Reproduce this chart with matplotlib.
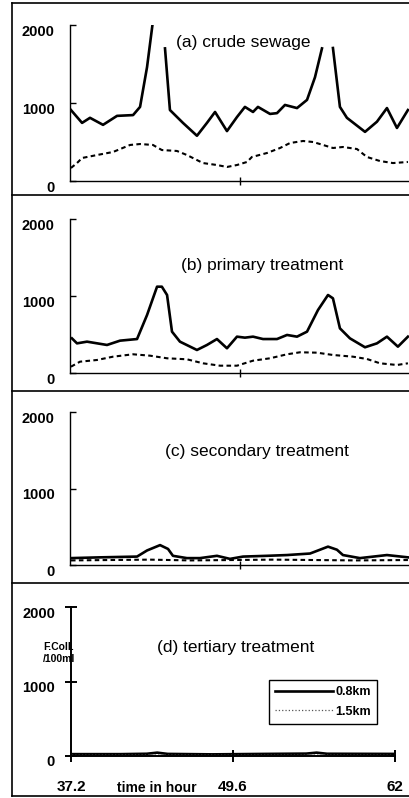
import numpy as np
import matplotlib
matplotlib.use("Agg")
import matplotlib.pyplot as plt
from matplotlib.lines import Line2D
from matplotlib.transforms import ScaledTranslation

plt.rcParams["font.family"] = ["Liberation Sans", "DejaVu Sans"]

nan = np.nan

# (a) crude sewage
t_a_08 = [37.27, 38.08, 38.66, 39.61, 40.63, 41.80, 42.31, 42.82, 43.25, 43.6,
          44.13, 44.49, 45.44, 46.46, 47.19, 47.78, 48.65, 49.38, 49.96, 50.55,
          50.91, 51.79, 52.30, 52.88, 53.76, 54.49, 55.07, 55.58, 56.0, 56.38,
          56.89, 57.40, 58.72, 59.59, 60.32, 61.05, 61.85]
a_08 = [910, 745, 810, 720, 835, 845, 950, 1460, 2050, nan,
        1700, 910, 745, 580, 745, 885, 640, 820, 950, 885,
        950, 860, 870, 975, 935, 1040, 1330, 1700, nan, 1705,
        950, 810, 630, 760, 935, 680, 910]
t_a_15 = [37.27, 37.71, 38.08, 39.17, 40.34, 41.58, 42.31, 43.25, 43.90, 45.00,
          45.73, 46.90, 47.92, 48.65, 49.38, 50.11, 50.47, 51.57, 52.52, 53.25,
          54.20, 54.93, 55.66, 56.38, 57.11, 58.13, 58.86, 59.81, 60.76, 61.85]
a_15 = [167, 230, 295, 333, 372, 462, 474, 462, 397, 385,
        333, 230, 205, 180, 205, 244, 308, 359, 423, 487,
        513, 500, 462, 423, 436, 410, 308, 256, 230, 244]

# (b) primary treatment
t_b_08 = [37.34, 37.71, 38.44, 39.90, 40.85, 42.09, 42.82, 43.55, 43.90, 44.28,
          44.64, 45.22, 46.46, 47.19, 47.92, 48.65, 49.38, 49.96, 50.55, 51.28,
          52.30, 53.03, 53.76, 54.49, 55.29, 56.02, 56.38, 56.89, 57.62, 58.72,
          59.59, 60.32, 61.12, 61.85]
b_08 = [450, 385, 407, 364, 420, 441, 753, 1121, 1121, 1013,
        537, 407, 299, 364, 441, 321, 472, 459, 472, 441,
        441, 494, 472, 537, 818, 1013, 970, 580, 450, 334,
        385, 472, 342, 472]
t_b_15 = [37.27, 37.93, 39.17, 40.34, 41.80, 43.04, 44.28, 45.73, 46.90, 48.14,
          49.38, 50.55, 51.79, 53.03, 53.98, 55.22, 56.38, 57.84, 58.86, 59.81,
          61.05, 61.85]
b_15 = [82, 147, 169, 212, 243, 225, 191, 178, 126, 95,
        95, 160, 191, 243, 269, 264, 234, 212, 182, 126,
        104, 126]

# (c) secondary treatment
t_c_08 = [37.27, 39.39, 42.09, 42.82, 43.77, 44.35, 44.71, 45.73, 46.68, 47.92,
          48.87, 49.82, 51.57, 53.03, 54.71, 55.44, 56.02, 56.67, 57.11, 58.35,
          60.32, 61.85]
c_08 = [90, 100, 110, 190, 260, 210, 120, 90, 90, 120,
        80, 110, 120, 130, 150, 200, 240, 200, 130, 90,
        130, 100]
t_c_15 = [37.27, 40.0, 43.0, 46.0, 49.0, 52.0, 55.0, 58.0, 61.85]
c_15 = [60, 65, 70, 60, 65, 70, 65, 60, 65]

# (d) tertiary treatment
t_d_08 = [37.27, 41.0, 43.0, 43.8, 44.6, 48.0, 52.0, 55.2, 56.0, 56.8, 61.85]
d_08 = [25, 25, 30, 45, 28, 22, 28, 32, 45, 30, 28]
t_d_15 = [37.27, 43.0, 49.6, 56.0, 61.85]
d_15 = [10, 12, 10, 12, 10]

titles = ["(a) crude sewage", "(b) primary treatment",
          "(c) secondary treatment", "(d) tertiary treatment"]
title_pos = [(0.509, 0.891), (0.565, 0.701), (0.55, 0.739), (0.509, 0.73)]

W, H = 409, 798
fig = plt.figure(figsize=(W / 100, H / 100), dpi=100)


def px(x, y):
    return x / W, 1 - y / H


# panel frames
for yy in [3, 195, 391, 583, 796]:
    fig.add_artist(Line2D([12 / W, 1.0], [1 - yy / H] * 2, color="black", lw=1.2))
fig.add_artist(Line2D([12 / W] * 2, [1 - 3 / H, 1 - 796 / H], color="black", lw=1.2))

rects = [
    [70 / W, 1 - 181 / H, 1.0024 - 70 / W, 156 / H],
    [70 / W, 1 - 373 / H, 1.0024 - 70 / W, 154 / H],
    [70 / W, 1 - 565 / H, 1.0024 - 70 / W, 153 / H],
    [71 / W, 1 - 756 / H, 324 / W, 149 / H],
]
series = [
    (t_a_08, a_08, t_a_15, a_15),
    (t_b_08, b_08, t_b_15, b_15),
    (t_c_08, c_08, t_c_15, c_15),
    (t_d_08, d_08, t_d_15, d_15),
]

dashed = (0, (2.2, 1.6))
axes = []
for i, (rect, (t1, v1, t2, v2)) in enumerate(zip(rects, series)):
    ax = fig.add_axes(rect)
    axes.append(ax)
    if i < 3:
        ax.plot(t1, v1, color="black", lw=1.9, solid_joinstyle="round")
        ax.plot(t2, v2, color="black", lw=1.5, linestyle=dashed)
    else:
        ax.plot(t1, v1, color="black", lw=1.9, label="0.8km")
        ax.plot(t2, v2, color="#555555", lw=0.9, linestyle=":", label="1.5km")
    ax.set_xlim(37.2, 62)
    ax.set_ylim(0, 2000)
    for s in ["top", "right"]:
        ax.spines[s].set_visible(False)
    for s in ["left", "bottom"]:
        ax.spines[s].set_linewidth(1.0 if i < 3 else 1.4)
    ax.set_yticks([0, 1000, 2000])
    ax.set_yticklabels(["0", "1000", "2000"], fontsize=10.5, fontweight="bold")
    if i < 3:
        ax.set_xticks([49.6])
        ax.tick_params(axis="x", direction="inout", length=6, width=1, labelbottom=False)
        ax.tick_params(axis="y", direction="in", length=4, width=1, pad=11)
    else:
        ax.set_xticks([37.2, 49.6, 62])
        ax.set_xticklabels(["37.2", "49.6", "62"], fontsize=11, fontweight="bold")
        ax.tick_params(axis="x", direction="inout", length=9, width=1.4, pad=13)
        ax.tick_params(axis="y", direction="inout", length=9, width=1.4, pad=7)
    off = ScaledTranslation(0, -5 / 100, fig.dpi_scale_trans)
    for lab in ax.get_yticklabels():
        lab.set_transform(lab.get_transform() + off)
    ax.text(title_pos[i][0], title_pos[i][1], titles[i], transform=ax.transAxes,
            ha="center", va="center", fontsize=12.5, zorder=5)
    ax.patch.set_visible(False)

ax = axes[3]
ax.legend(loc="upper left", bbox_to_anchor=((269 - 71) / 324, (756 - 680) / 149),
          frameon=True, fancybox=False, edgecolor="black", framealpha=1,
          prop={"weight": "bold", "size": 9}, handlelength=4.6, handletextpad=0.2,
          borderpad=0.5, labelspacing=0.6, borderaxespad=0)
ax.get_legend().get_frame().set_linewidth(1.0)

fig.text(*px(43, 647), "F.Coll.", fontsize=7.5, fontweight="bold", va="center")
fig.text(*px(43, 659), "/100ml", fontsize=7.5, fontweight="bold", va="center")
fig.text(*px(157, 788), "time in hour", fontsize=10, fontweight="bold",
         ha="center", va="center")

fig.savefig("out.png", dpi=100)
